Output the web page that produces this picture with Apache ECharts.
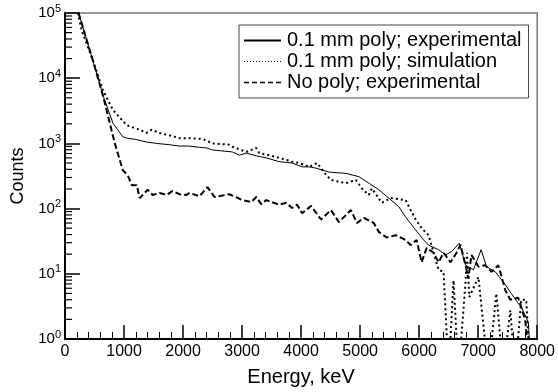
<!DOCTYPE html>
<html>
<head>
<meta charset="utf-8">
<script src="https://cdn.jsdelivr.net/npm/echarts@6/dist/echarts.min.js"></script>
<style>
html, body { margin: 0; padding: 0; background: #fff; }
#chart { width: 558px; height: 392px; }
</style>
</head>
<body>
<div id="chart"></div>
<script>
// values: energy in keV, counts per bin
// 0.3 = empty bin (below the axis, gets clipped)
var expEnergy = [230, 470, 650, 813, 980, 1063, 1200, 1380, 1550, 1772, 1941, 2110, 2278, 2400, 2498, 2700, 2835, 2954, 3072, 3240, 3409, 3629, 3848, 4017, 4135, 4253, 4473, 4760, 4979, 5148, 5316, 5485, 5654, 5772, 5941, 6076, 6160, 6330, 6450, 6550, 6680, 6790, 6920, 7050, 7140, 7290, 7460, 7560, 7680, 7730, 7850, 7900];
var expCounts = [100000, 19000, 5250, 2040, 1260, 1200, 1150, 1050, 1000, 955, 910, 910, 870, 850, 795, 760, 740, 660, 710, 645, 600, 525, 500, 437, 437, 417, 363, 347, 309, 245, 195, 145, 107, 74, 47, 33, 27.5, 23.4, 19.5, 21.9, 29.5, 13.5, 11.5, 23.4, 12.9, 10.7, 6.8, 5.0, 3.5, 3.1, 1.8, 0.3];

var simEnergy = [200, 280, 470, 641, 813, 1046, 1266, 1380, 1468, 1603, 1823, 1941, 2110, 2329, 2498, 2785, 2835, 3072, 3240, 3291, 3460, 3629, 3848, 3966, 4135, 4270, 4422, 4506, 4760, 4928, 5030, 5148, 5198, 5367, 5519, 5772, 5856, 5941, 6042, 6160, 6245, 6329, 6414, 6500, 6582, 6667, 6785, 6810, 6850, 7004, 7173, 7308, 7426, 7544, 7628, 7730, 7814, 7882];
var simCounts = [120000, 55000, 19000, 6600, 3240, 1900, 1620, 1445, 1620, 1445, 1290, 1200, 1200, 1175, 1000, 955, 890, 740, 850, 710, 660, 600, 525, 500, 437, 500, 331, 275, 245, 275, 204, 162, 204, 123, 145, 135, 95, 68, 50, 39, 21, 11.5, 10.7, 0.3, 7.9, 0.3, 7.2, 21, 4.4, 8.9, 0.3, 5.0, 0.3, 2.75, 0.3, 4.0, 4.0, 0.3];

var noPolyEnergy = [230, 470, 647, 844, 979, 1063, 1131, 1215, 1266, 1401, 1485, 1603, 1722, 1823, 1941, 2059, 2110, 2278, 2414, 2532, 2785, 3004, 3156, 3240, 3325, 3409, 3629, 3747, 3848, 3932, 4017, 4169, 4338, 4506, 4641, 4844, 4945, 5063, 5232, 5316, 5451, 5603, 5772, 5856, 5958, 6042, 6127, 6245, 6329, 6414, 6532, 6633, 6700, 6785, 6835, 6886, 7004, 7122, 7224, 7342, 7460, 7544, 7679, 7797, 7882];
var noPolyCounts = [100000, 19000, 5250, 1000, 390, 324, 229, 229, 145, 195, 162, 174, 162, 186, 166, 162, 174, 155, 214, 151, 166, 135, 126, 151, 117, 135, 115, 123, 102, 115, 85, 110, 68, 95, 62, 95, 60, 72, 60, 44, 36, 39, 33, 27.5, 33, 15, 25, 21, 15, 21, 15, 21, 28, 13.5, 8.5, 19.5, 12.9, 13.5, 10.7, 13.5, 5.6, 4.0, 4.3, 1.95, 0.3];

var seriesNames = ['0.1 mm poly; experimental', '0.1 mm poly; simulation', 'No poly; experimental'];

// minor ticks of the log axis: 2..9 in every decade
var yDecades = [1, 10, 100, 1000, 10000];
var yMinorSteps = [2, 3, 4, 5, 6, 7, 8, 9];

var FONT = 'Liberation Sans';

function pairs(xs, ys) {
    return xs.map(function (x, i) { return [x, ys[i]]; });
}

var yMinorTicks = [];
yDecades.forEach(function (d) {
    yMinorSteps.forEach(function (s) { yMinorTicks.push([0, d * s]); });
});

var chart = echarts.init(document.getElementById('chart'));
chart.setOption({
    animation: false,
    backgroundColor: '#fff',
    textStyle: { fontFamily: FONT },
    grid: {
        left: 65, right: 19, top: 13, bottom: 53,
        show: true, borderColor: '#777', borderWidth: 1.5
    },
    legend: {
        left: 239, top: 25,
        orient: 'vertical',
        padding: [5, 7, 5, 4],
        itemGap: 0,
        itemWidth: 37,
        itemHeight: 10,
        backgroundColor: '#fff',
        borderColor: '#444',
        borderWidth: 1,
        borderRadius: 0,
        itemStyle: { opacity: 0 },
        textStyle: { fontSize: 20, lineHeight: 21, color: '#000', fontFamily: FONT, padding: [0, 0, 0, 1] },
        data: [
            { name: seriesNames[0], lineStyle: { width: 2 } },
            { name: seriesNames[1], lineStyle: { width: 1, type: [1, 2] } },
            { name: seriesNames[2], lineStyle: { width: 1.5, type: [5, 3] } }
        ]
    },
    xAxis: {
        type: 'value',
        min: 0, max: 8000, interval: 1000,
        name: 'Energy, keV',
        nameLocation: 'middle',
        nameGap: 28,
        nameTextStyle: { fontSize: 20, color: '#000', fontFamily: FONT },
        axisLine: { lineStyle: { color: '#000', width: 2 } },
        axisTick: { inside: true, length: 14, lineStyle: { color: '#000', width: 1.5 } },
        minorTick: { show: true, splitNumber: 5, length: 7, lineStyle: { color: '#000', width: 1 } },
        splitLine: { show: false },
        axisLabel: {
            fontSize: 16, color: '#000', margin: 5, fontFamily: FONT,
            formatter: function (v) { return String(v); }
        }
    },
    yAxis: {
        type: 'log',
        logBase: 10,
        min: 1, max: 100000,
        name: 'Counts',
        nameLocation: 'middle',
        nameGap: 38,
        nameTextStyle: { fontSize: 18, color: '#000', fontFamily: FONT },
        axisLine: { lineStyle: { color: '#000', width: 2 } },
        axisTick: { inside: true, length: 15, lineStyle: { color: '#000', width: 1.5 } },
        splitLine: { show: false },
        axisLabel: {
            margin: 4,
            formatter: function (v) {
                return '{b|10}{s|' + Math.round(Math.log10(v)) + '}';
            },
            rich: {
                b: { fontSize: 15, color: '#000', fontFamily: FONT },
                s: { fontSize: 11, color: '#000', fontFamily: FONT, padding: [0, 0, 9, 0] }
            }
        }
    },
    series: [
        {
            name: seriesNames[0], type: 'line', data: pairs(expEnergy, expCounts),
            showSymbol: false, symbol: 'none', clip: true,
            lineStyle: { color: '#000', width: 1 }, itemStyle: { color: '#000' }
        },
        {
            name: seriesNames[1], type: 'line', data: pairs(simEnergy, simCounts),
            showSymbol: false, symbol: 'none', clip: true,
            lineStyle: { color: '#000', width: 2, type: [2, 3] }, itemStyle: { color: '#000' }
        },
        {
            name: seriesNames[2], type: 'line', data: pairs(noPolyEnergy, noPolyCounts),
            showSymbol: false, symbol: 'none', clip: true,
            lineStyle: { color: '#000', width: 2, type: [6, 3] }, itemStyle: { color: '#000' }
        },
        {
            name: 'yMinor', type: 'custom', data: yMinorTicks, silent: true, clip: false, z: 5,
            renderItem: function (params, api) {
                var p = api.coord([0, api.value(1)]);
                return {
                    type: 'line',
                    shape: { x1: p[0], y1: p[1], x2: p[0] + 7, y2: p[1] },
                    style: { stroke: '#000', lineWidth: 1.2 }
                };
            }
        }
    ]
});
</script>
</body>
</html>
